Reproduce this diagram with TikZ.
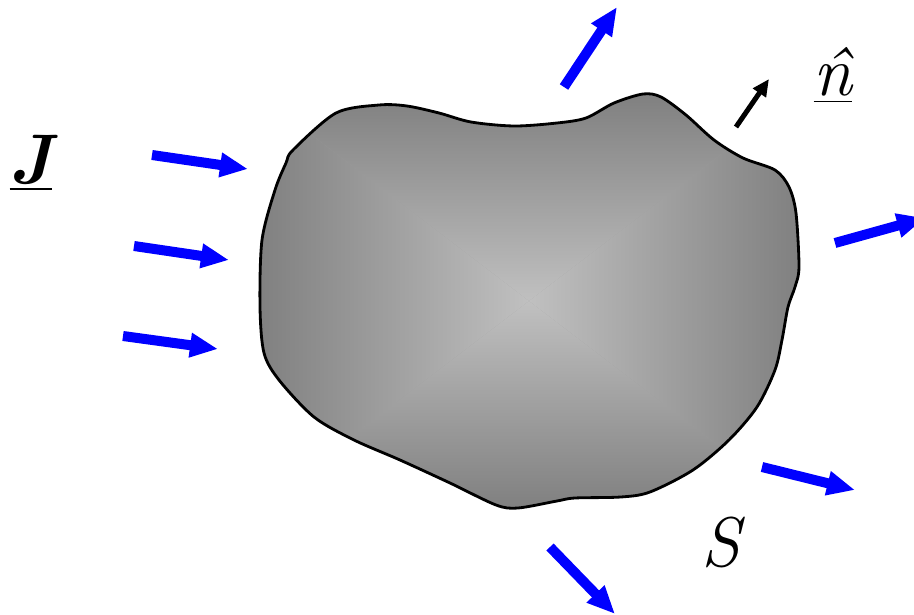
\documentclass[tikz,border=0pt]{standalone}
\usepackage{fontspec}
\definecolor{FluxBlue}{HTML}{0000FF}
\definecolor{BlobEdge}{HTML}{808080}
\definecolor{BlobCentre}{HTML}{C0C0C0}
\usetikzlibrary{arrows.meta}

\def\blobline{plot[smooth cycle, tension=0.5] coordinates {
  (293,150) (336,113) (379,105) (407,106) (439,113) (471,122) (514,126) (557,123)
  (586,118) (614,103) (643,94) (661,97) (686,115) (714,140) (743,158) (775,170)
  (789,187) (796,213) (799,267) (795,287) (788,307) (782,340) (775,370) (757,407)
  (729,440) (693,470) (650,492) (621,497) (575,498) (557,501) (518,508) (496,505)
  (450,483) (400,460) (354,440) (314,417) (279,380) (264,353) (260,307) (262,240)
  (275,190) (286,163)}}

\begin{document}
\begin{tikzpicture}[
        x=0.01cm, y=-0.01cm,
        flux/.style={-{Triangle[length=0.28cm, width=0.23cm]}, line width=0.1cm, FluxBlue},
        normal/.style={-{Triangle[length=0.17cm, width=0.15cm]}, line width=0.05cm, black},
        sym/.style={anchor=base, inner sep=0pt, font=\fontsize{20}{20}\selectfont\itshape}
    ]
        \useasboundingbox (0,0) rectangle (914,615);
        % body, shaded as a pyramid
        \begin{scope}
            \clip \blobline;
            \fill[BlobEdge!50!BlobCentre] (258,94) rectangle (800,508);
            \shade[top color=BlobEdge, bottom color=BlobCentre]    (258,94) -- (800,94) -- (529,301) -- cycle;
            \shade[top color=BlobCentre, bottom color=BlobEdge]    (258,508) -- (800,508) -- (529,301) -- cycle;
            \shade[left color=BlobEdge, right color=BlobCentre]    (258,94) -- (258,508) -- (529,301) -- cycle;
            \shade[left color=BlobCentre, right color=BlobEdge]    (800,94) -- (800,508) -- (529,301) -- cycle;
        \end{scope}
        \draw[line width=0.8pt, black] \blobline;
        % current arrows
        \foreach \i/\ax/\ay/\bx/\by in {1/152/155/248/169, 2/134/246/229/260, 3/123/336/218/349,
                4/564/87/617/7, 5/835/243/925/218, 6/762/467/855/490, 7/550/547/615/614} {
            \coordinate (tail\i) at (\ax,\ay);
            \coordinate (tip\i) at (\bx,\by);
            \draw[flux] (tail\i) -- (tip\i);
        }
        \coordinate (ntail) at (736,127);
        \coordinate (ntip) at (769,79);
        \draw[normal] (ntail) -- (ntip);
        % labels
        \node[sym] (J) at (31,183) {\underline{\textbf{J}}};
        \node[sym] (n) at (833,96) {\underline{\^{n}}};
        \node[sym] (S) at (721,567) {S};
    \end{tikzpicture}
\end{document}
